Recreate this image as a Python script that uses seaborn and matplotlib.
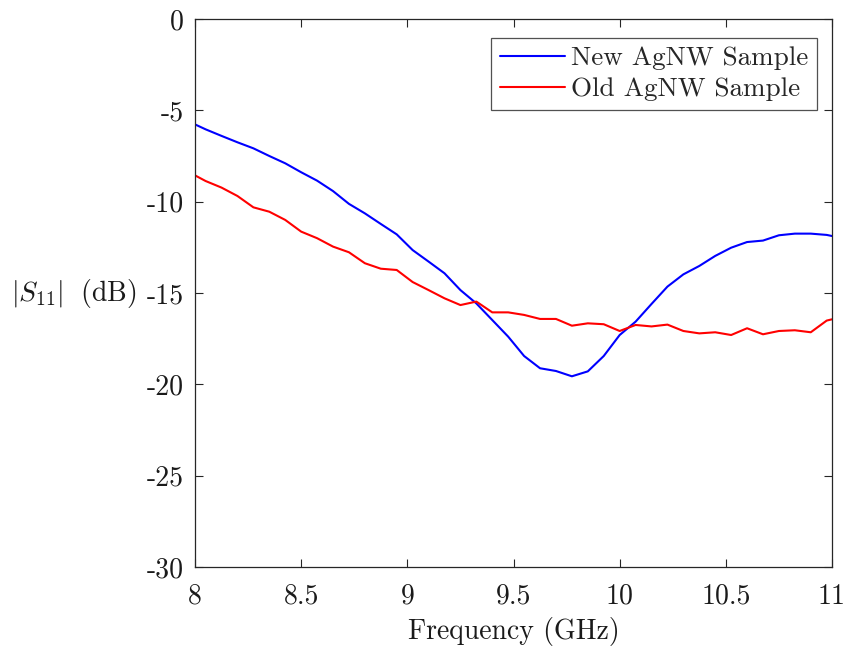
# S11 comparison of two AgNW samples
import numpy as np
import pandas as pd
import matplotlib
matplotlib.use('Agg')
import matplotlib.pyplot as plt
import seaborn as sns

# Data (GHz, dB)
freq = [8.0, 8.05, 8.125, 8.2, 8.275, 8.35, 8.425, 8.5, 8.575, 8.65, 8.725,
        8.8, 8.875, 8.95, 9.025, 9.1, 9.175, 9.25, 9.325, 9.4, 9.475,
        9.55, 9.625, 9.7, 9.775, 9.85, 9.925, 10.0, 10.075, 10.15, 10.225,
        10.3, 10.375, 10.45, 10.525, 10.6, 10.675, 10.75, 10.825, 10.9, 10.975, 11.0]

new_s11 = [-5.77, -6.04, -6.40, -6.75, -7.08, -7.50, -7.90, -8.39, -8.85, -9.42, -10.12,
           -10.64, -11.22, -11.79, -12.65, -13.28, -13.92, -14.84, -15.57, -16.48, -17.39,
           -18.45, -19.12, -19.27, -19.56, -19.29, -18.45, -17.30, -16.57, -15.60, -14.65,
           -13.98, -13.52, -12.97, -12.52, -12.21, -12.13, -11.84, -11.75, -11.75, -11.82, -11.88]

old_s11 = [-8.56, -8.87, -9.23, -9.69, -10.31, -10.55, -11.00, -11.64, -12.00, -12.46, -12.77,
           -13.37, -13.67, -13.74, -14.40, -14.84, -15.29, -15.66, -15.47, -16.06, -16.06,
           -16.20, -16.42, -16.42, -16.79, -16.66, -16.71, -17.08, -16.75, -16.83, -16.73,
           -17.08, -17.21, -17.15, -17.30, -16.93, -17.26, -17.08, -17.04, -17.15, -16.51, -16.44]

labels = ['New AgNW Sample', 'Old AgNW Sample']
colors = ['#0000ff', '#ff0000']

xticks = [8, 8.5, 9, 9.5, 10, 10.5, 11]
xtick_labels = ['8', '8.5', '9', '9.5', '10', '10.5', '11']
yticks = [-30, -25, -20, -15, -10, -5, 0]
ytick_labels = ['-30', '-25', '-20', '-15', '-10', '-5', '0']

df = pd.DataFrame({
    'freq': freq + freq,
    's11': new_s11 + old_s11,
    'sample': [labels[0]] * len(freq) + [labels[1]] * len(freq),
})

sns.set_style('ticks')
plt.rcParams['font.family'] = ['cmr10']
plt.rcParams['mathtext.fontset'] = 'cm'
plt.rcParams['axes.formatter.use_mathtext'] = True
plt.rcParams['axes.unicode_minus'] = False

fig = plt.figure(figsize=(8.5, 6.48), dpi=100)
ax = fig.add_axes([195 / 850, 1 - 567 / 648, (832 - 195) / 850, (567 - 19) / 648])

sns.lineplot(data=df, x='freq', y='s11', hue='sample', hue_order=labels,
             palette=colors, linewidth=1.5, ax=ax)

ax.set_xlim(8, 11)
ax.set_ylim(-30, 0)
ax.set_xticks(xticks)
ax.set_xticklabels(xtick_labels)
ax.set_yticks(yticks)
ax.set_yticklabels(ytick_labels)

fs = 20
ax.tick_params(direction='in', length=6, width=0.8, colors='#262626',
               labelsize=fs, labelcolor='#1a1a1a', top=True, right=True)
ax.tick_params(axis='y', pad=8)
ax.tick_params(axis='x', pad=12)
for s in ax.spines.values():
    s.set_color('#262626')
    s.set_linewidth(0.9)

ax.set_xlabel('Frequency (GHz)', fontsize=fs, color='#1a1a1a', labelpad=5)
ax.set_ylabel(r'$|S_{11}|\;$ (dB)', fontsize=fs, color='#1a1a1a', rotation=0,
              ha='right', va='center')
ax.yaxis.set_label_coords(-0.091, 0.5)

leg = ax.legend(loc='upper right', fontsize=19.5, frameon=True, fancybox=False,
                edgecolor='#262626', handlelength=2.4, handletextpad=0.25,
                borderpad=0.32, labelspacing=0.25, borderaxespad=0.0,
                bbox_to_anchor=(0.977, 0.966))
leg.get_frame().set_linewidth(0.9)
leg.set_title(None)

fig.savefig('out.png', dpi=100)
